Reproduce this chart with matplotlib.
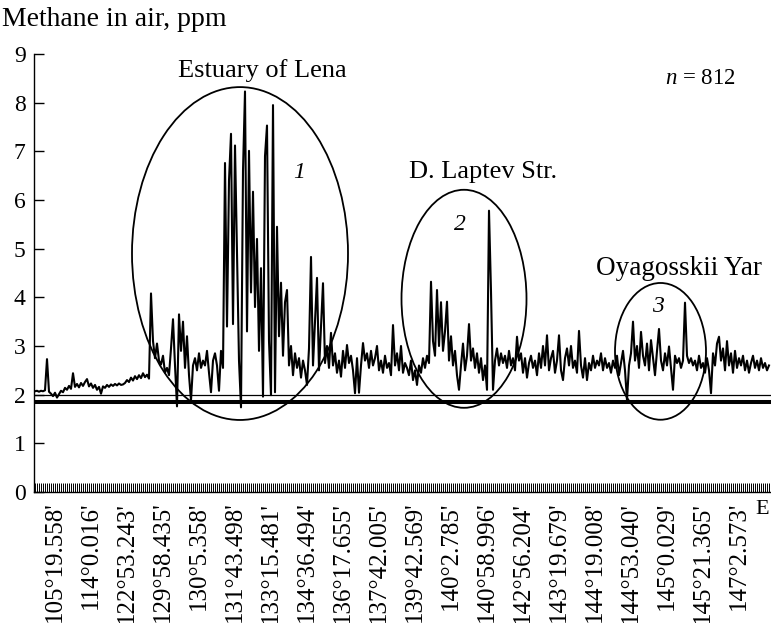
import numpy as np
import matplotlib
matplotlib.use('Agg')
import matplotlib.pyplot as plt
from matplotlib.patches import Ellipse

plt.rcParams['font.family'] = 'Liberation Serif'
plt.rcParams['mathtext.fontset'] = 'custom'
plt.rcParams['mathtext.rm'] = 'Liberation Serif'
plt.rcParams['mathtext.it'] = 'Liberation Serif:italic'

# methane readings along the track (ppm)
seg_start = [2.07, 2.08, 2.06, 2.08, 2.07, 2.09, 2.73, 2.06, 2.02, 1.97,
             2.04, 1.94, 2.01, 2.08, 2.05, 2.14, 2.10, 2.18, 2.12, 2.44,
             2.16, 2.22, 2.15, 2.24, 2.18, 2.26, 2.32, 2.17, 2.23, 2.14,
             2.20, 2.10, 2.16, 2.02, 2.17, 2.14, 2.20, 2.16, 2.21, 2.18,
             2.22, 2.19, 2.23, 2.20, 2.21, 2.24, 2.30, 2.26, 2.35, 2.29,
             2.38, 2.32, 2.40, 2.34, 2.44, 2.36, 2.41, 2.33]
seg_lena_edge = [4.08, 3.10, 2.75, 3.05, 2.70, 2.62, 2.80, 2.45, 2.55,
                 2.40, 2.95, 3.55, 2.60, 1.76, 3.65, 2.90, 3.50, 2.55, 3.20,
                 2.40, 1.88, 2.60, 2.75, 2.50, 2.85, 2.55, 2.70, 2.60, 2.90,
                 2.45, 2.05, 2.70, 2.85, 2.60, 2.08, 2.90, 2.55]
seg_lena = [6.76, 3.40, 6.40, 7.36, 3.45, 7.12, 4.90, 2.70, 1.74, 6.60,
            8.23, 3.30, 7.01, 4.10, 6.17, 3.80, 5.20, 2.90, 4.60, 1.96,
            6.90, 7.53, 3.10, 1.99, 7.95, 2.05, 5.45, 3.20, 4.30, 2.80,
            3.90, 4.15, 2.60, 3.00, 2.40, 2.85, 2.55, 2.75, 2.35, 2.70,
            2.50, 2.20, 2.95, 4.83, 2.60, 3.50, 4.40, 2.50, 3.40, 4.29,
            2.65, 3.00, 2.55]
seg_mid1 = [3.27, 2.60, 2.85, 2.45, 2.70, 2.37, 2.90, 2.55, 3.02, 2.65,
            2.80, 2.50, 2.03, 2.75, 2.04, 2.60, 3.06, 2.70, 2.85, 2.55,
            2.90, 2.60, 2.75, 3.00, 2.50, 2.70, 2.45, 2.80, 2.55, 2.65,
            2.40, 3.43, 2.60, 2.85, 2.50, 3.00, 2.45, 2.65, 2.55, 2.40,
            2.70, 2.30, 2.50, 2.20, 2.60, 2.45, 2.75, 2.55, 2.80, 2.65]
seg_laptev = [4.32, 3.10, 2.80, 4.15, 3.00, 3.90, 2.90, 3.30, 3.91, 2.70,
              3.20, 2.60, 2.90, 2.40, 2.10, 2.60, 3.05, 2.50, 2.80, 3.45,
              2.70, 2.95, 2.55, 2.85, 2.45, 2.75, 2.30, 2.60, 2.10, 5.78,
              4.12, 2.10, 2.70, 2.95, 2.60]
seg_mid2 = [2.85, 2.65, 2.80, 2.55, 2.90, 2.60, 2.75, 2.50, 3.19, 2.70,
            2.85, 2.45, 2.75, 2.35, 2.65, 2.80, 2.55, 2.70, 2.40, 2.85,
            2.55, 3.00, 2.60, 3.22, 2.50, 2.75, 2.90, 2.45, 2.70, 3.22,
            2.50, 2.30, 2.75, 2.95, 2.60, 3.00, 2.55, 2.70, 2.45, 3.31,
            2.60, 2.35, 2.75, 2.30, 2.65, 2.50, 2.80, 2.55, 2.70, 2.60,
            2.85, 2.50, 2.75, 2.55, 2.65, 2.45]
seg_oyagos = [2.70, 2.55, 2.80, 2.40, 2.65, 2.90, 2.50, 1.89, 2.60, 2.85,
              3.50, 2.70, 3.00, 2.55, 3.29, 2.80, 2.60, 3.05, 2.50, 3.12,
              2.75, 2.40, 2.90, 3.35, 2.70, 2.50, 2.85, 2.60, 2.99, 2.55,
              2.10, 2.80, 2.65, 2.75, 2.55, 2.70, 3.89, 2.80, 2.65, 2.75,
              2.60, 2.70, 2.50, 2.80, 2.55, 2.65, 2.45, 2.75]
seg_end = [2.50, 2.03, 2.85, 2.60, 3.05, 3.19, 2.70, 2.95, 2.50, 3.10,
           2.60, 2.85, 2.45, 2.90, 2.55, 2.75, 2.60, 2.80, 2.50, 2.70,
           2.45, 2.65, 2.80, 2.55, 2.70, 2.50, 2.75, 2.55, 2.65, 2.50,
           2.60]

methane = np.array(seg_start + seg_lena_edge + seg_lena + seg_mid1 +
                   seg_laptev + seg_mid2 + seg_oyagos + seg_end)

lon_labels = ["105°19.558'", "114°0.016'", "122°53.243'", "129°58.435'",
              "130°5.358'", "131°43.498'", "133°15.481'", "134°36.494'",
              "136°17.655'", "137°42.005'", "139°42.569'", "140°2.785'",
              "140°58.996'", "142°56.204'", "143°19.679'", "144°19.008'",
              "144°53.040'", "145°0.029'", "145°21.365'", "147°2.573'"]

threshold = 2.0
background = 1.85

fig = plt.figure(figsize=(7.71, 6.23), dpi=100)
ax = fig.add_axes([34/771, 131/623, 737/771, 438/623])

x = np.arange(len(methane))
ax.plot(x, methane, color='black', lw=1.5)
ax.axhline(threshold, color='black', lw=0.9)
ax.axhline(background, color='black', lw=2.9)

ax.set_xlim(-0.5, 368)
ax.set_ylim(0, 9)

for s in ['top', 'right']:
    ax.spines[s].set_visible(False)
ax.spines['left'].set_linewidth(1.0)
ax.spines['bottom'].set_linewidth(1.0)

ax.set_yticks(range(10))
ax.tick_params(axis='y', direction='in', length=7, width=1, labelsize=17, pad=6)

label_idx = 10 + 18 * np.arange(len(lon_labels))
ax.set_xticks(label_idx)
ax.set_xticklabels(lon_labels, rotation=90)
ax.set_xticks(x, minor=True)
ax.tick_params(axis='x', which='both', direction='in', length=6.5, width=0.7,
               labelsize=18, pad=7)

# circled regions
ax.add_patch(Ellipse((102.5, 4.90), 108, 6.84, fill=False, lw=1.3))
ax.add_patch(Ellipse((214.5, 3.97), 62.5, 4.48, fill=False, lw=1.3))
ax.add_patch(Ellipse((312.75, 2.89), 45.5, 2.81, fill=False, lw=1.3))

ax.text(113.5, 8.67, 'Estuary of Lena', fontsize=19, ha='center', va='center')
ax.text(132, 6.57, '1', fontsize=17, style='italic', ha='center', va='center')
ax.text(224, 6.57, 'D. Laptev Str.', fontsize=19, ha='center', va='center')
ax.text(212.5, 5.49, '2', fontsize=17, style='italic', ha='center', va='center')
ax.text(322, 4.60, 'Oyagosskii Yar', fontsize=19.5, ha='center', va='center')
ax.text(311.5, 3.82, '3', fontsize=17, style='italic', ha='center', va='center')
ax.text(332.5, 8.50, '$n$ = 812', fontsize=16.5, ha='center', va='center')

fig.text(2/771, 1 - 20/623, 'Methane in air, ppm', fontsize=20, ha='left', va='center')
fig.text(755/771, 1 - 510/623, 'E', fontsize=16, ha='left', va='center')

fig.savefig('out.png', dpi=100)
